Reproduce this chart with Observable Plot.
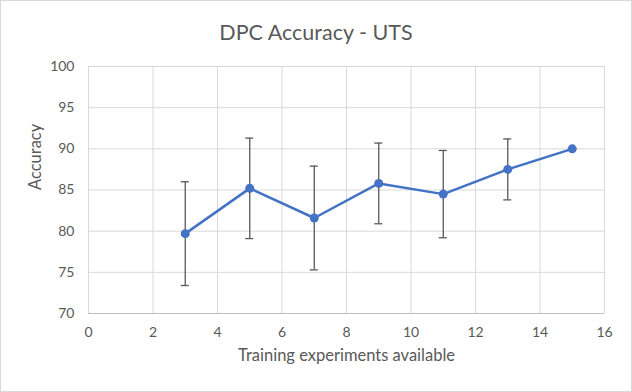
<!DOCTYPE html>
<html>
<head>
<meta charset="utf-8">
<script src="https://cdn.jsdelivr.net/npm/d3@7"></script>
<script src="https://cdn.jsdelivr.net/npm/@observablehq/plot@0.6"></script>
<style>
  body { margin: 0; background: #fff; }
  #wrap { position: relative; width: 632px; height: 392px; box-sizing: border-box; border: 1px solid #d9d9d9; background: #fff; font-family: Lato, "Noto Sans", sans-serif; }
  #title { height: 50px; text-align: center; font-size: 21.5px; color: #595959; line-height: 22px; box-sizing: border-box; }
  #title span { position: relative; top: 20px; }
  svg { display: block; }
</style>
</head>
<body>
<div id="wrap">
  <div id="title"><span>DPC Accuracy - UTS</span></div>
  <div id="chart"></div>
</div>
<script>
const trainingExperiments = [3, 5, 7, 9, 11, 13, 15];
const accuracy = [79.7, 85.2, 81.6, 85.8, 84.5, 87.5, 90.0];
const errorSize = [6.3, 6.1, 6.3, 4.9, 5.3, 3.7, 0];
const xTicks = [0, 2, 4, 6, 8, 10, 12, 14, 16];
const yTicks = [70, 75, 80, 85, 90, 95, 100];
const xTitle = "Training experiments available";
const yTitle = "Accuracy";

const data = trainingExperiments.map((x, i) => ({x, y: accuracy[i], e: errorSize[i]}));
const bars = data.filter(d => d.e > 0);

const chart = Plot.plot({
  width: 630,
  height: 340,
  marginTop: 15,
  marginBottom: 78,
  marginLeft: 87,
  marginRight: 27,
  style: {fontFamily: "Lato, 'Noto Sans', sans-serif", fontSize: "14px", color: "#595959", background: "#fff", overflow: "visible"},
  x: {domain: [0, 16], ticks: xTicks, label: null},
  y: {domain: [70, 100], ticks: yTicks, label: null},
  marks: [
    Plot.gridX(xTicks, {stroke: "#d9d9d9", strokeOpacity: 1, strokeWidth: 1}),
    Plot.gridY(yTicks, {stroke: "#d9d9d9", strokeOpacity: 1, strokeWidth: 1}),
    Plot.ruleY([70], {stroke: "#bfbfbf", strokeWidth: 1}),
    Plot.axisX({ticks: xTicks, tickSize: 0, tickPadding: 14, fill: "#595959", fontSize: 14, label: null}),
    Plot.axisY({ticks: yTicks, tickSize: 0, tickPadding: 14, fill: "#595959", fontSize: 14, label: null}),
    Plot.text([xTitle], {frameAnchor: "bottom", dy: 47, fill: "#595959", fontSize: 16.5}),
    Plot.text([yTitle], {frameAnchor: "left", dx: -53, rotate: -90, fill: "#595959", fontSize: 16.5}),
    Plot.ruleX(bars, {x: "x", y1: d => d.y - d.e, y2: d => d.y + d.e, stroke: "#595959", strokeWidth: 1.3}),
    Plot.ruleY(bars, {y: d => d.y + d.e, x1: "x", x2: "x", insetLeft: -4, insetRight: -4, stroke: "#595959", strokeWidth: 1.3}),
    Plot.ruleY(bars, {y: d => d.y - d.e, x1: "x", x2: "x", insetLeft: -4, insetRight: -4, stroke: "#595959", strokeWidth: 1.3}),
    Plot.line(data, {x: "x", y: "y", stroke: "#4472C4", strokeWidth: 2.5}),
    Plot.dot(data, {x: "x", y: "y", r: 4.5, fill: "#4472C4", stroke: "none"})
  ]
});
document.getElementById("chart").appendChild(chart);
</script>
</body>
</html>
